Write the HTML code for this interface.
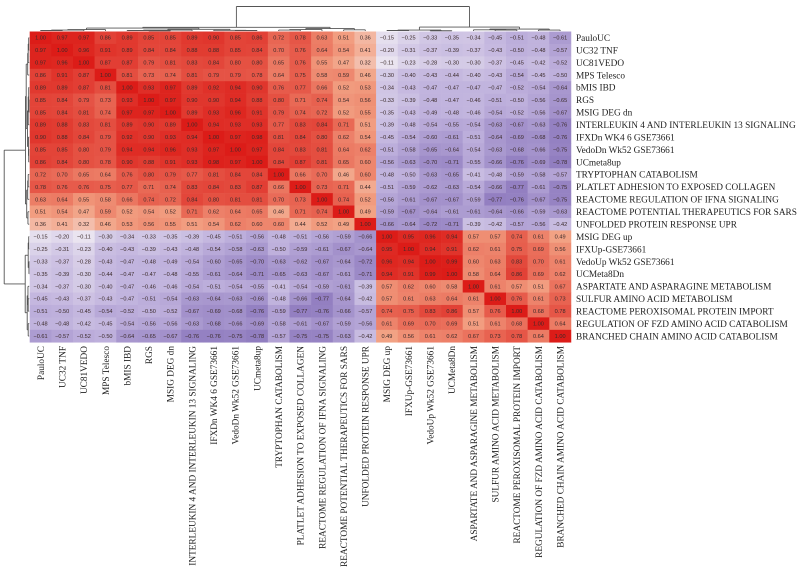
<!DOCTYPE html>
<html><head><meta charset="utf-8"><style>
html,body{margin:0;padding:0;background:#fff;width:800px;height:572px;overflow:hidden}
svg{display:block}
</style></head><body>
<svg id="chart" width="800" height="572" xmlns="http://www.w3.org/2000/svg"></svg>
<script>
const labels = ["PauloUC","UC32 TNF","UC81VEDO","MPS Telesco","bMIS IBD","RGS","MSIG DEG dn","INTERLEUKIN 4 AND INTERLEUKIN 13 SIGNALING","IFXDn WK4 6 GSE73661","VedoDn Wk52 GSE73661","UCmeta8up","TRYPTOPHAN CATABOLISM","PLATLET ADHESION TO EXPOSED COLLAGEN","REACTOME REGULATION OF IFNA SIGNALING","REACTOME POTENTIAL THERAPEUTICS FOR SARS","UNFOLDED PROTEIN RESPONSE UPR","MSIG DEG up","IFXUp-GSE73661","VedoUp Wk52 GSE73661","UCMeta8Dn","ASPARTATE AND ASPARAGINE METABOLISM","SULFUR AMINO ACID METABOLISM","REACTOME PEROXISOMAL PROTEIN IMPORT","REGULATION OF FZD AMINO ACID CATABOLISM","BRANCHED CHAIN AMINO ACID CATABOLISM"];
const rowsTop = [
[1,.97,.97,.86,.89,.85,.85,.89,.90,.85,.86,.72,.78,.63,.51,.36,-.15,-.25,-.33,-.35,-.34,-.45,-.51,-.48,-.61],
[.97,1,.96,.91,.89,.84,.84,.88,.88,.85,.84,.70,.76,.64,.54,.41,-.20,-.31,-.37,-.39,-.37,-.43,-.50,-.48,-.57],
[.97,.96,1,.87,.87,.79,.81,.83,.84,.80,.80,.65,.76,.55,.47,.32,-.11,-.23,-.28,-.30,-.30,-.37,-.45,-.42,-.52],
[.86,.91,.87,1,.81,.73,.74,.81,.79,.79,.78,.64,.75,.58,.59,.46,-.30,-.40,-.43,-.44,-.40,-.43,-.54,-.45,-.50],
[.89,.89,.87,.81,1,.93,.97,.89,.92,.94,.90,.76,.77,.66,.52,.53,-.34,-.43,-.47,-.47,-.47,-.47,-.52,-.54,-.64],
[.85,.84,.79,.73,.93,1,.97,.90,.90,.94,.88,.80,.71,.74,.54,.56,-.33,-.39,-.48,-.47,-.46,-.51,-.50,-.56,-.65],
[.85,.84,.81,.74,.97,.97,1,.89,.93,.96,.91,.79,.74,.72,.52,.55,-.35,-.43,-.49,-.48,-.46,-.54,-.52,-.56,-.67],
[.89,.88,.83,.81,.89,.90,.89,1,.94,.93,.93,.77,.83,.84,.71,.51,-.39,-.48,-.54,-.55,-.54,-.63,-.67,-.63,-.76],
[.90,.88,.84,.79,.92,.90,.93,.94,1,.97,.98,.81,.84,.80,.62,.54,-.45,-.54,-.60,-.61,-.51,-.64,-.69,-.68,-.76],
[.85,.85,.80,.79,.94,.94,.96,.93,.97,1,.97,.84,.83,.81,.64,.62,-.51,-.58,-.65,-.64,-.54,-.63,-.68,-.66,-.75],
[.86,.84,.80,.78,.90,.88,.91,.93,.98,.97,1,.84,.87,.81,.65,.60,-.56,-.63,-.70,-.71,-.55,-.66,-.76,-.69,-.78],
[.72,.70,.65,.64,.76,.80,.79,.77,.81,.84,.84,1,.66,.70,.46,.60,-.48,-.50,-.63,-.65,-.41,-.48,-.59,-.58,-.57],
[.78,.76,.76,.75,.77,.71,.74,.83,.84,.83,.87,.66,1,.73,.71,.44,-.51,-.59,-.62,-.63,-.54,-.66,-.77,-.61,-.75],
[.63,.64,.55,.58,.66,.74,.72,.84,.80,.81,.81,.70,.73,1,.74,.52,-.56,-.61,-.67,-.67,-.59,-.77,-.76,-.67,-.75],
[.51,.54,.47,.59,.52,.54,.52,.71,.62,.64,.65,.46,.71,.74,1,.49,-.59,-.67,-.64,-.61,-.61,-.64,-.66,-.59,-.63],
[.36,.41,.32,.46,.53,.56,.55,.51,.54,.62,.60,.60,.44,.52,.49,1,-.66,-.64,-.72,-.71,-.39,-.42,-.57,-.56,-.42]];
const rowsBlock = [
[1,.95,.96,.94,.57,.57,.74,.61,.49],
[.95,1,.94,.91,.62,.61,.75,.69,.56],
[.96,.94,1,.99,.60,.63,.83,.70,.61],
[.94,.91,.99,1,.58,.64,.86,.69,.62],
[.57,.62,.60,.58,1,.61,.57,.51,.67],
[.57,.61,.63,.64,.61,1,.76,.61,.73],
[.74,.75,.83,.86,.57,.76,1,.68,.78],
[.61,.69,.70,.69,.51,.61,.68,1,.64],
[.49,.56,.61,.62,.67,.73,.78,.64,1]];
const tree = [1.0,
  [0.15,
    [0.12,[0.06,[0.04,[0.02,0,1],2],3],[0.07,[0.04,[0.02,4,[0.01,5,6]],7],[0.03,8,[0.02,9,10]]]],
    [0.10,[0.06,[0.04,11,12],13],[0.05,14,15]]],
  [0.16,[0.04,[0.02,16,17],[0.01,18,19]],[0.08,[0.05,20,[0.04,21,22]],[0.04,23,24]]]];

const N = labels.length;
const M = [];
for (let i=0;i<N;i++){M.push(new Array(N).fill(0));}
for (let i=0;i<16;i++) for (let j=0;j<N;j++){M[i][j]=rowsTop[i][j];M[j][i]=rowsTop[i][j];}
for (let i=0;i<9;i++) for (let j=0;j<9;j++){M[16+i][16+j]=rowsBlock[i][j];}

const X0=29.7, Y0=31.5, CW=21.65, CH=12.43;
const xs=j=>X0+j*CW, ys=i=>Y0+i*CH;
const NS="http://www.w3.org/2000/svg";
const svg=document.getElementById('chart');
function mk(t,a){const e=document.createElementNS(NS,t);for(const k in a)e.setAttribute(k,a[k]);svg.appendChild(e);return e;}
function lerp(a,b,t){return a.map((v,i)=>Math.round(v+(b[i]-v)*t));}
function color(v){
  const w=[246,243,246];
  if(v>=0){const mid=[242,160,130], hi=[220,28,24];
    return v<0.5?lerp(w,mid,v/0.5):lerp(mid,hi,(v-0.5)/0.5);}
  const a=-v, mid=[190,176,220], lo=[110,86,170];
  return a<0.5?lerp(w,mid,a/0.5):lerp(mid,lo,(a-0.5)/0.5);
}
for(let i=0;i<N;i++)for(let j=0;j<N;j++){
  const v=M[i][j], c=color(v);
  const r=mk('rect',{x:xs(j),y:ys(i),width:CW+0.3,height:CH+0.3,fill:`rgb(${c})`});
  
  
  const t=mk('text',{x:xs(j)+CW/2,y:ys(i)+CH/2+2,'text-anchor':'middle','font-size':'5.6','font-family':'Liberation Sans, sans-serif',fill:'#3a2a2a'});
  t.textContent=(v===1?'1.00':v.toFixed(2).replace('-','\u2212'));
  
  
}
for(let i=0;i<N;i++){
  const t=mk('text',{x:576,y:ys(i)+CH/2+3.3,'font-size':'9.3','font-family':'Liberation Serif, serif',fill:'#222'});
  t.textContent=labels[i];
  
  
  const cx=xs(i)+CW/2+3.3, cy=346;
  const u=mk('text',{x:cx,y:cy,'text-anchor':'end','font-size':'9.3','font-family':'Liberation Serif, serif',fill:'#222',transform:`rotate(-90 ${cx} ${cy})`});
  u.textContent=labels[i];
  
  
}
function layout(n){ if(typeof n==='number') return {p:n+0.5,h:0};
  const a=layout(n[1]), b=layout(n[2]); return {p:(a.p+b.p)/2,h:n[0],a,b}; }
const L=layout(tree);
function draw(node,top){
  if(!node.a) return;
  const seg=(p1,h1,p2,h2)=>{
    let a;
    if(top) a={x1:X0+p1*CW,y1:Y0-0.5-h1*24.5,x2:X0+p2*CW,y2:Y0-0.5-h2*24.5};
    else a={x1:X0-0.5-h1*25,y1:Y0+p1*CH,x2:X0-0.5-h2*25,y2:Y0+p2*CH};
    const l=mk('line',Object.assign(a,{stroke:'#555','stroke-width':0.9}));
    
    
  };
  seg(node.a.p,node.h,node.b.p,node.h);
  seg(node.a.p,node.h,node.a.p,node.a.h);
  seg(node.b.p,node.h,node.b.p,node.b.h);
  draw(node.a,top);draw(node.b,top);
}
draw(L,true);draw(L,false);
</script>
</body></html>
